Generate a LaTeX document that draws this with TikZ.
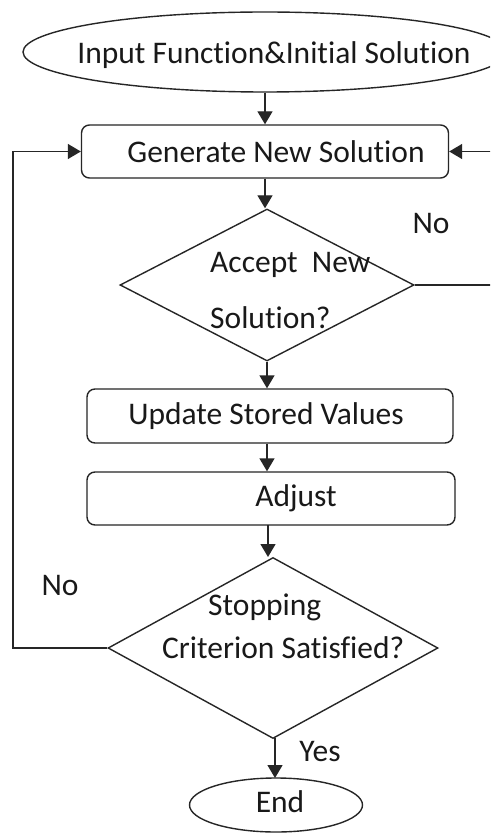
\documentclass[tikz,border=0pt]{standalone}
\usepackage{fontspec}
\setmainfont{Carlito}[Ligatures=NoCommon]
\usetikzlibrary{shapes.geometric,arrows.meta}
\begin{document}
\begin{tikzpicture}[x=1pt,y={(0pt,-1pt)},
  every node/.style={font=\fontsize{31.5}{38}\selectfont, text=black!90},
  line/.style={draw=black!85, line width=1.4pt},
  arr/.style={line, -{Triangle[width=15pt,length=13pt]}},
  box/.style={line, rectangle, rounded corners=8pt, inner sep=0pt},
  term/.style={line, ellipse, inner sep=0pt},
  dec/.style={line, diamond, inner sep=0pt},
  lab/.style={inner sep=0pt}]
\useasboundingbox (0,0) rectangle (490,834);
\clip (0,0) rectangle (490,834);
\fill[white] (0,0) rectangle (490,834);
% shapes
\node[term, minimum width=484pt, minimum height=80pt] (in) at (265,52) {};
\node[lab] (intext) at (274,55) {Input Function\&Initial Solution};
\node[box, minimum width=367pt, minimum height=53pt] (gen) at (265,151.5) {\hspace*{22pt}Generate New Solution};
\node[dec, minimum width=294pt, minimum height=152pt] (d1) at (267,285) {};
\node[lab, anchor=base west] (d1a) at (210,272) {Accept\ \ New};
\node[lab, anchor=base west] (d1b) at (210,328) {Solution?};
\node[box, minimum width=366pt, minimum height=54pt] (up) at (270,416) {\hspace*{-8pt}Update Stored Values};
\node[box, minimum width=368pt, minimum height=53pt] (adj) at (271,498.5) {\hspace*{50pt}Adjust};
\node[dec, minimum width=330pt, minimum height=181pt] (d2) at (273,648) {};
\node[lab, anchor=base west] (d2a) at (208,615) {Stopping};
\node[lab, anchor=base west] (d2b) at (162,658) {Criterion Satisfied?};
\node[term, minimum width=173pt, minimum height=54pt] (end) at (276,805) {};
\node[lab] (endtext) at (280,802) {End};
% labels
\node[lab] (no1) at (431,224) {No};
\node[lab] (no2) at (60,585) {No};
\node[lab] (yes) at (320,752) {Yes};
% connectors
\draw[arr] (in.south) -- (in.south |- gen.north);
\draw[arr] (gen.south) -- (gen.south |- d1.north);
\draw[arr] (d1.south) -- (d1.south |- up.north);
\draw[arr] (d1.south |- up.south) -- (d1.south |- adj.north);
\draw[arr] (268,525) -- (268,557);
\draw[arr] (275,738) -- (275,778);
\draw[arr] (d2.west) -- (13,648) |- (gen.west);
\draw[arr] (d1.east) -- (493,285) |- (gen.east);
\end{tikzpicture}
\end{document}
